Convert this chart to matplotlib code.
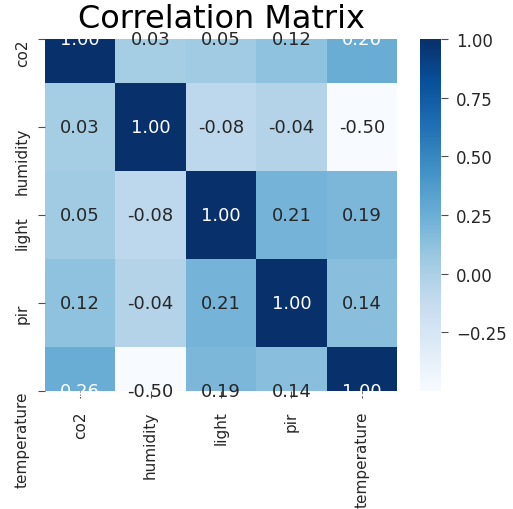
import numpy as np
import pandas as pd
import matplotlib
matplotlib.use("Agg")
import matplotlib.pyplot as plt
import seaborn as sns

# sensor columns and their pairwise correlations
sensors = ["co2", "humidity", "light", "pir", "temperature"]
co2_row = [1.00, 0.03, 0.05, 0.12, 0.26]
humidity_row = [0.03, 1.00, -0.08, -0.04, -0.50]
light_row = [0.05, -0.08, 1.00, 0.21, 0.19]
pir_row = [0.12, -0.04, 0.21, 1.00, 0.14]
temperature_row = [0.26, -0.50, 0.19, 0.14, 1.00]
cbar_ticks = [-0.25, 0.00, 0.25, 0.50, 0.75, 1.00]

corr = pd.DataFrame([co2_row, humidity_row, light_row, pir_row, temperature_row],
                    index=sensors, columns=sensors)

fig = plt.figure(figsize=(5.13, 5.10), dpi=100)
W, H = 513, 510
ax = fig.add_axes([45 / W, 1 - 392 / H, 352 / W, 352 / H])
cax = fig.add_axes([420 / W, 1 - 392 / H, 21 / W, 352 / H])

sns.heatmap(corr, annot=True, fmt=".2f", cmap="Blues", ax=ax, cbar_ax=cax,
            annot_kws={"size": 13})

# old matplotlib cut the first and last rows in half
ax.set_ylim(4.5, 0.5)

ax.set_title("Correlation Matrix", fontsize=23, pad=9)
ax.set_xticklabels(sensors, rotation=90, fontsize=11, color=".15")
ax.set_yticklabels(sensors, rotation=90, va="top", fontsize=11, color=".15")
ax.tick_params(axis="both", length=5, color=".3")
ax.tick_params(axis="x", pad=9)
ax.tick_params(axis="y", pad=6)

cax.set_yticks(cbar_ticks)
cax.tick_params(labelsize=12, length=5, pad=6, labelcolor=".15", color=".3")

fig.savefig("out.png", dpi=100)
